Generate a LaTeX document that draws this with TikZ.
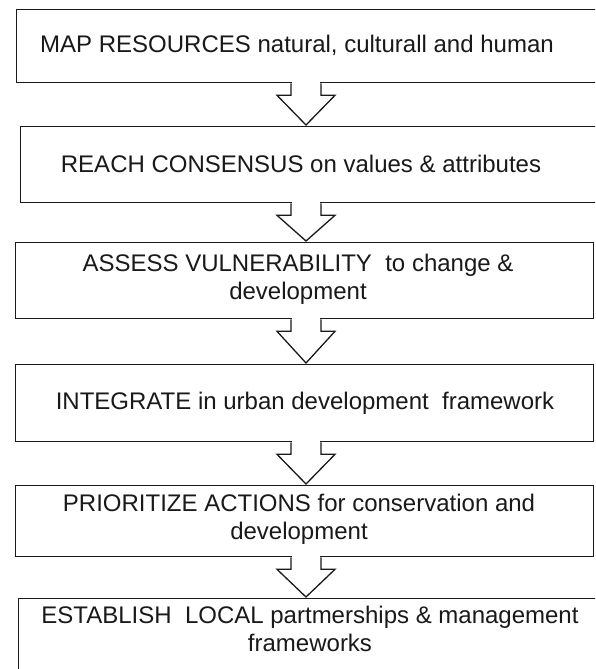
\documentclass[tikz,border=0pt]{standalone}
\usepackage{fontspec}
\setmainfont{Liberation Sans}
\usetikzlibrary{calc}
\newcommand\blockarr[2]{%
  \fill[white] ($(#1.south -| ax)+(-14.3,-1.5)$) rectangle ($(#1.south -| ax)+(14.3,1.5)$);
  \draw[barrow] ($(#1.south -| ax)+(-15,0)$) -- ++(0,12) -- ++(-14,0)
     -- ($(#2.north -| ax)+(0,-1)$)
     -- ($(#1.south -| ax)+(29,12)$) -- ++(-14,0) -- ++(0,-12);
}
\begin{document}
\begin{tikzpicture}[x=1pt,y=-1pt,
  box/.style={draw=black!90, line width=1.3pt, anchor=north west, inner sep=0pt},
  lbl/.style={font=\fontsize{24}{28}\selectfont, align=center, inner sep=0pt, text=black!90},
  barrow/.style={draw=black!90, line width=1.3pt, fill=white, line join=miter}]
\useasboundingbox (0,0) rectangle (595,669);
\clip (0,0) rectangle (595,669);
\fill[white] (0,0) rectangle (595,669);
\coordinate (ax) at (306,0);
\node[box, minimum width=590pt, minimum height=73pt] (b1) at (16,9) {};
\node[box, minimum width=590pt, minimum height=76pt] (b2) at (20,126) {};
\node[box, minimum width=578pt, minimum height=76pt] (b3) at (15,242) {};
\node[box, minimum width=578pt, minimum height=77pt] (b4) at (15,364) {};
\node[box, minimum width=578pt, minimum height=71pt] (b5) at (15,485) {};
\node[box, minimum width=590pt, minimum height=100pt] (b6) at (18,598) {};
\node[lbl] (t1) at (297,45.5) {MAP RESOURCES natural, culturall and human};
\node[lbl] (t2) at (301,164) {REACH CONSENSUS on values \& attributes};
\node[lbl] (t3) at (298,279) {ASSESS VULNERABILITY\ \ to change \&\\development};
\node[lbl] (t4) at (305,403) {INTEGRATE in urban development\ \ framework};
\node[lbl] (t5) at (299,519) {PRIORITIZE ACTIONS for conservation and\\development};
\node[lbl] (t6) at (310,629) {ESTABLISH\ \ LOCAL partmerships \& management\\frameworks};
\blockarr{b1}{b2}
\blockarr{b2}{b3}
\blockarr{b3}{b4}
\blockarr{b4}{b5}
\blockarr{b5}{b6}
\end{tikzpicture}
\end{document}
